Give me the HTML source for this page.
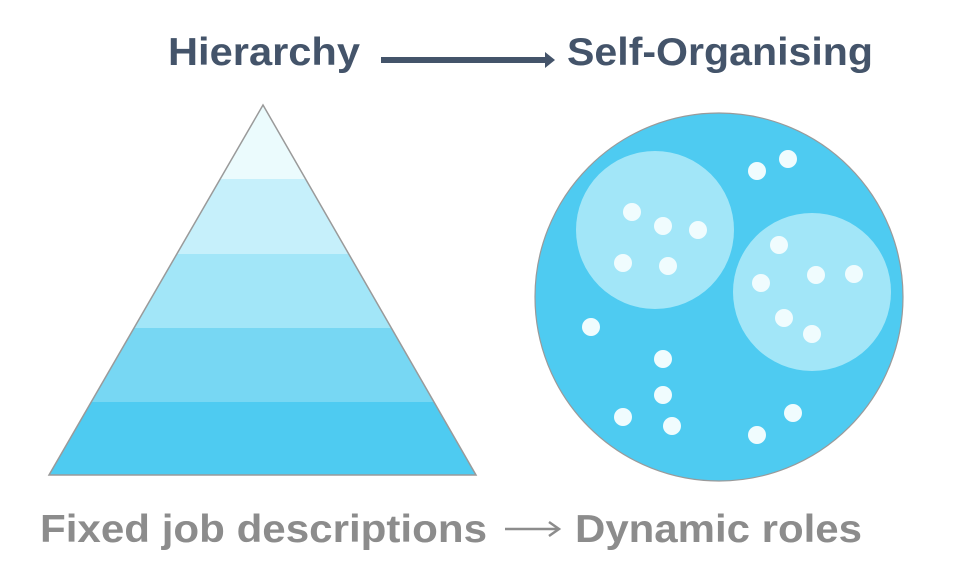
<!DOCTYPE html>
<html><head><meta charset="utf-8"><style>html,body{margin:0;padding:0;background:#fff}svg{display:block}</style></head>
<body>
<svg width="954" height="582" viewBox="0 0 954 582" xmlns="http://www.w3.org/2000/svg">
<defs><clipPath id="tri"><polygon points="263,105 49,475 476,475"/></clipPath></defs>
<g clip-path="url(#tri)">
<rect x="0" y="100" width="500" height="80" fill="#ebfbfd"/>
<rect x="0" y="179" width="500" height="75" fill="#c6f0fb"/>
<rect x="0" y="254" width="500" height="74" fill="#a2e6f8"/>
<rect x="0" y="328" width="500" height="74" fill="#77d7f3"/>
<rect x="0" y="402" width="500" height="80" fill="#4ecbf1"/>
</g>
<polygon points="263,105 49,475 476,475" fill="none" stroke="#9a9a9a" stroke-width="1.5"/>
<circle cx="719" cy="297" r="184" fill="#4ecbf1" stroke="#9a9a9a" stroke-width="1.2"/>
<circle cx="655" cy="230" r="79" fill="#a2e6f8"/>
<circle cx="812" cy="292" r="79" fill="#a2e6f8"/>
<g fill="#f0fcfe">
<circle cx="757" cy="171" r="9"/><circle cx="788" cy="159" r="9"/>
<circle cx="632" cy="212" r="9"/><circle cx="663" cy="226" r="9"/><circle cx="698" cy="230" r="9"/>
<circle cx="623" cy="263" r="9"/><circle cx="668" cy="266" r="9"/>
<circle cx="779" cy="245" r="9"/><circle cx="761" cy="283" r="9"/><circle cx="816" cy="275" r="9"/>
<circle cx="854" cy="274" r="9"/><circle cx="784" cy="318" r="9"/><circle cx="812" cy="334" r="9"/>
<circle cx="591" cy="327" r="9"/><circle cx="663" cy="359" r="9"/><circle cx="663" cy="395" r="9"/>
<circle cx="623" cy="417" r="9"/><circle cx="672" cy="426" r="9"/><circle cx="793" cy="413" r="9"/>
<circle cx="757" cy="435" r="9"/>
</g>
<g font-family="Liberation Sans, sans-serif" font-weight="bold">
<text x="168" y="65" font-size="39" fill="#44546a" textLength="192" lengthAdjust="spacingAndGlyphs">Hierarchy</text>
<text x="567" y="65" font-size="39" fill="#44546a" textLength="306" lengthAdjust="spacingAndGlyphs">Self-Organising</text>
<text x="40" y="542" font-size="39" fill="#8c8c8c" textLength="447" lengthAdjust="spacingAndGlyphs">Fixed job descriptions</text>
<text x="575" y="542" font-size="39" fill="#8c8c8c" textLength="287" lengthAdjust="spacingAndGlyphs">Dynamic roles</text>
</g>
<rect x="381" y="57" width="166" height="6" fill="#44546a"/>
<polygon points="545,52 555,60 545,68" fill="#44546a"/>
<line x1="505" y1="529" x2="558" y2="529" stroke="#8c8c8c" stroke-width="2.5"/>
<polyline points="549,522 559,529 549,536" fill="none" stroke="#8c8c8c" stroke-width="2.5"/>
</svg>
</body></html>
